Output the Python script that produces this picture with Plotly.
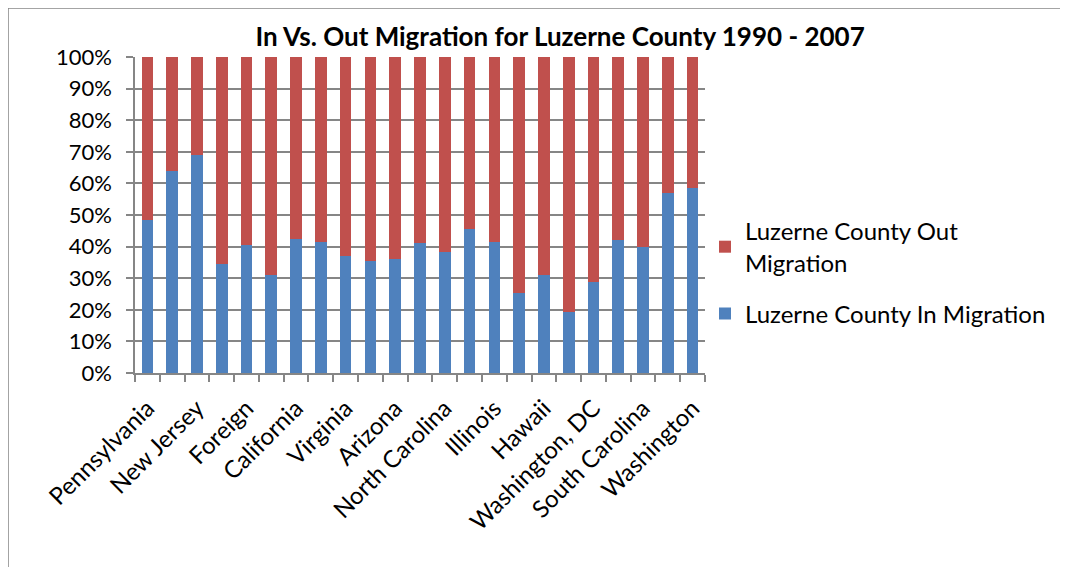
import plotly.graph_objects as go

# 23 categories; Excel labelled only every other one
positions = list(range(1, 24))
label_positions = [1, 3, 5, 7, 9, 11, 13, 15, 17, 19, 21, 23]
labels = ["Pennsylvania", "New Jersey", "Foreign", "California", "Virginia", "Arizona",
          "North Carolina", "Illinois", "Hawaii", "Washington, DC", "South Carolina", "Washington"]

in_share = [48.5, 64, 69, 34.4, 40.6, 31, 42.5, 41.5, 37, 35.3, 36, 41,
            38.2, 45.6, 41.5, 25.3, 31.1, 19.2, 28.7, 42, 40, 57, 58.4]
out_share = [100 - v for v in in_share]

BLUE = "#4F81BD"
RED = "#C0504D"
GRID = "#868686"
FONT = "Lato, 'Open Sans', sans-serif"

fig = go.Figure()
fig.add_trace(go.Bar(x=positions, y=in_share, name="Luzerne County In Migration",
                     legendgroup="in", legendrank=2,
                     marker=dict(color=BLUE, line=dict(width=0))))
fig.add_trace(go.Bar(x=positions, y=out_share, name="Luzerne County Out<br>Migration",
                     legendgroup="out", legendrank=1,
                     marker=dict(color=RED, line=dict(width=0))))

fig.update_layout(
    width=1068, height=567,
    barmode="stack", bargap=0.53,
    plot_bgcolor="white", paper_bgcolor="white",
    font=dict(family=FONT, size=22, color="black"),
    margin=dict(l=127, r=371, t=49, b=202, autoexpand=False),
    title=dict(text="<b>In Vs. Out Migration for Luzerne County 1990 - 2007</b>",
               x=0.517, xanchor="center", y=0.949, yanchor="middle",
               font=dict(family=FONT, size=26, color="black")),
    legend=dict(x=1.0, y=0.519, xanchor="left", yanchor="top", traceorder="grouped",
                font=dict(size=24), itemwidth=30, tracegroupgap=17),
    showlegend=True,
)
fig.update_xaxes(
    range=[0.5, 23.5], tickmode="array", tickvals=label_positions, ticktext=labels,
    tickangle=-45, ticks="", showgrid=False, showline=True, linecolor=GRID, linewidth=1.5,
    tickfont=dict(size=24), ticklabelstandoff=10,
    minor=dict(tickmode="linear", tick0=0.5, dtick=1, ticks="outside", ticklen=7,
               tickcolor=GRID, tickwidth=1.5, showgrid=False),
)
fig.update_yaxes(
    range=[0, 100], tickmode="linear", tick0=0, dtick=10, ticksuffix="%",
    ticks="outside", ticklen=7, tickcolor=GRID, tickwidth=1.5,
    showgrid=True, gridcolor=GRID, gridwidth=1.5,
    showline=True, linecolor=GRID, linewidth=1.5, ticklabelstandoff=10,
)

# chart area border
fig.add_shape(type="rect", xref="paper", yref="paper",
              x0=-0.2228, x1=1.8, y0=-0.8, y1=1.155,
              line=dict(color=GRID, width=1.5), fillcolor="rgba(0,0,0,0)", layer="below")

fig.write_html("out.html")
